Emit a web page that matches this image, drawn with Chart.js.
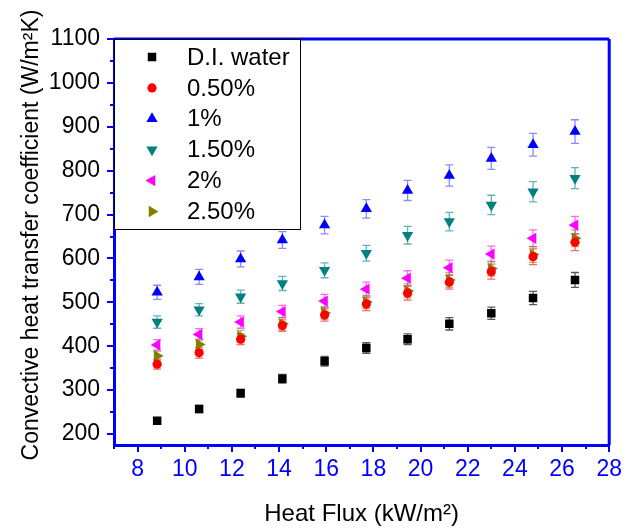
<!DOCTYPE html>
<html>
<head>
<meta charset="utf-8">
<script src="https://cdn.jsdelivr.net/npm/chart.js"></script>
<style>
  body { margin: 0; background: #fff; }
  #wrap { width: 633px; height: 529px; }
</style>
</head>
<body>
<div id="wrap"><canvas id="htcChart" width="633" height="529"></canvas></div>
<script>
// heat flux (kW/m2) for every measurement
const heatFlux = [8.83, 10.61, 12.37, 14.14, 15.93, 17.7, 19.45, 21.22, 23.0, 24.77, 26.55];

// convective heat transfer coefficient (W/m2K)
const diWater = [230, 257, 293, 326, 366, 396, 416, 451, 475, 510, 551];
const conc050 = [359, 385, 416, 447, 471, 496, 521, 546, 570, 604, 637];
const conc100 = [523, 558, 599, 642, 676, 713, 755, 789, 828, 859, 889];
const conc150 = [455, 483, 513, 543, 573, 612, 653, 684, 722, 752, 783];
const conc200 = [403, 427, 455, 479, 503, 530, 555, 579, 610, 646, 676];
const conc250 = [378, 404, 423, 451, 476, 501, 526, 551, 577, 609, 646];

// error bar half-heights
const errDiWater = [7, 8, 9, 10, 11, 12, 12, 14, 14, 15, 17];
const err050 = [11, 12, 12, 13, 14, 15, 16, 16, 17, 18, 19];
const err100 = [16, 17, 18, 19, 20, 21, 23, 24, 25, 26, 27];
const err150 = [14, 14, 15, 16, 17, 18, 20, 21, 22, 23, 24];
const err200 = [12, 13, 14, 14, 15, 16, 17, 17, 18, 19, 20];
const err250 = [11, 12, 13, 14, 14, 15, 16, 17, 17, 18, 19];

const seriesNames = ["D.I. water", "0.50%", "1%", "1.50%", "2%", "2.50%"];
const xTicks = [8, 10, 12, 14, 16, 18, 20, 22, 24, 26, 28];
const yTicks = [200, 300, 400, 500, 600, 700, 800, 900, 1000, 1100];

const FONT = "'Liberation Sans', Arial, sans-serif";
const AXIS_BLUE = "#0000ff";

function makeSet(i, values, errors, color, errColor, style, rotation, radius) {
  return {
    label: seriesNames[i],
    data: values.map((v, j) => ({ x: heatFlux[j], y: v })),
    errors: errors,
    errColor: errColor,
    showLine: false,
    pointStyle: style,
    rotation: rotation,
    pointRadius: radius,
    pointHoverRadius: radius,
    pointBackgroundColor: color,
    pointBorderColor: color,
    pointBorderWidth: 0
  };
}

const datasets = [
  makeSet(0, diWater, errDiWater, "#000000", "rgba(0,0,0,0.65)", "rect", 0, 6),
  makeSet(1, conc050, err050, "#ff0000", "rgba(255,0,0,0.6)", "circle", 0, 4.6),
  makeSet(2, conc100, err100, "#0000ff", "rgba(60,60,255,0.6)", "triangle", 0, 6.5),
  makeSet(3, conc150, err150, "#008080", "rgba(0,128,128,0.6)", "triangle", 180, 6.5),
  makeSet(4, conc200, err200, "#ff00ff", "rgba(255,0,255,0.6)", "triangle", -90, 6.5),
  makeSet(5, conc250, err250, "#808000", "rgba(128,128,0,0.6)", "triangle", 90, 6.5)
];

// vertical error bars with caps, behind the markers
const errorBars = {
  id: "errorBars",
  beforeDatasetsDraw(chart) {
    const { ctx, scales: { x, y } } = chart;
    ctx.save();
    ctx.lineWidth = 1.3;
    chart.data.datasets.forEach(ds => {
      ctx.strokeStyle = ds.errColor;
      ds.data.forEach((p, j) => {
        const px = x.getPixelForValue(p.x);
        const top = y.getPixelForValue(p.y + ds.errors[j]);
        const bot = y.getPixelForValue(p.y - ds.errors[j]);
        ctx.beginPath();
        ctx.moveTo(px, top); ctx.lineTo(px, bot);
        ctx.moveTo(px - 4, top); ctx.lineTo(px + 4, top);
        ctx.moveTo(px - 4, bot); ctx.lineTo(px + 4, bot);
        ctx.stroke();
      });
    });
    ctx.restore();
  }
};

// frame, outward major/minor ticks, y title and the legend box
const frameAndLegend = {
  id: "frameAndLegend",
  afterDraw(chart) {
    const { ctx, chartArea: a, scales: { x, y } } = chart;
    ctx.save();
    ctx.strokeStyle = AXIS_BLUE;
    ctx.lineWidth = 3;
    ctx.beginPath();
    ctx.moveTo(a.left, a.top); ctx.lineTo(a.right, a.top);
    ctx.moveTo(a.right, a.top); ctx.lineTo(a.right, a.bottom);
    ctx.stroke();

    ctx.lineWidth = 2;
    ctx.beginPath();
    for (let v = 7; v <= 28; v++) {
      const px = Math.round(x.getPixelForValue(v));
      const len = v % 2 === 0 ? 7 : 4;
      ctx.moveTo(px, a.bottom); ctx.lineTo(px, a.bottom + len);
    }
    for (let v = 200; v <= 1100; v += 50) {
      const py = Math.round(y.getPixelForValue(v));
      const len = v % 100 === 0 ? 7 : 4;
      ctx.moveTo(a.left, py); ctx.lineTo(a.left - len, py);
    }
    ctx.stroke();

    // y axis title
    ctx.fillStyle = "#000";
    ctx.font = "23px " + FONT;
    ctx.textAlign = "center";
    ctx.textBaseline = "middle";
    ctx.translate(32, 235);
    ctx.rotate(-Math.PI / 2);
    ctx.fillText("Convective heat transfer coefficient (W/m\u00b2K)", 0, 0);
    ctx.restore();

    // legend
    ctx.save();
    const bx = a.left, by = a.top, bw = 186, bh = 190;
    ctx.fillStyle = "#fff";
    ctx.fillRect(bx, by, bw, bh);
    ctx.strokeStyle = "#000";
    ctx.lineWidth = 1;
    ctx.strokeRect(bx + 0.5, by + 0.5, bw, bh);
    ctx.font = "24px " + FONT;
    ctx.textAlign = "left";
    ctx.textBaseline = "middle";
    chart.data.datasets.forEach((ds, i) => {
      const ry = by + 18 + i * 30.9;
      ctx.fillStyle = ds.pointBackgroundColor;
      ctx.strokeStyle = ds.pointBorderColor;
      Chart.helpers.drawPoint(ctx, {
        pointStyle: ds.pointStyle,
        rotation: ds.rotation,
        radius: ds.pointRadius,
        borderWidth: 0
      }, bx + 38, ry);
      ctx.fillStyle = "#000";
      ctx.fillText(ds.label, bx + 73, ry + 1);
    });
    ctx.restore();
  }
};

new Chart(document.getElementById("htcChart"), {
  type: "scatter",
  data: { datasets: datasets },
  plugins: [errorBars, frameAndLegend],
  options: {
    responsive: false,
    animation: false,
    layout: { padding: { left: 0, top: 39, right: 14, bottom: 0 } },
    plugins: {
      legend: { display: false },
      tooltip: { enabled: false }
    },
    scales: {
      x: {
        type: "linear",
        min: 7,
        max: 28,
        afterBuildTicks: s => { s.ticks = xTicks.map(v => ({ value: v })); },
        afterFit: s => { s.height = 84; },
        grid: { display: false, drawTicks: false },
        border: { display: true, color: AXIS_BLUE, width: 3 },
        ticks: {
          color: AXIS_BLUE,
          font: { family: FONT, size: 23 },
          padding: 11,
          maxRotation: 0,
          autoSkip: false,
          callback: v => String(v)
        },
        title: {
          display: true,
          text: "Heat Flux (kW/m\u00b2)",
          color: "#000",
          font: { family: FONT, size: 24 },
          padding: { top: 0, bottom: 0 }
        }
      },
      y: {
        type: "linear",
        min: 175,
        max: 1100,
        afterBuildTicks: s => { s.ticks = yTicks.map(v => ({ value: v })); },
        afterFit: s => { s.width = 114; },
        grid: { display: false, drawTicks: false },
        border: { display: true, color: AXIS_BLUE, width: 3 },
        ticks: {
          color: "#000",
          font: { family: FONT, size: 23 },
          padding: 14,
          autoSkip: false,
          callback: v => String(v)
        }
      }
    }
  }
});
</script>
</body>
</html>
